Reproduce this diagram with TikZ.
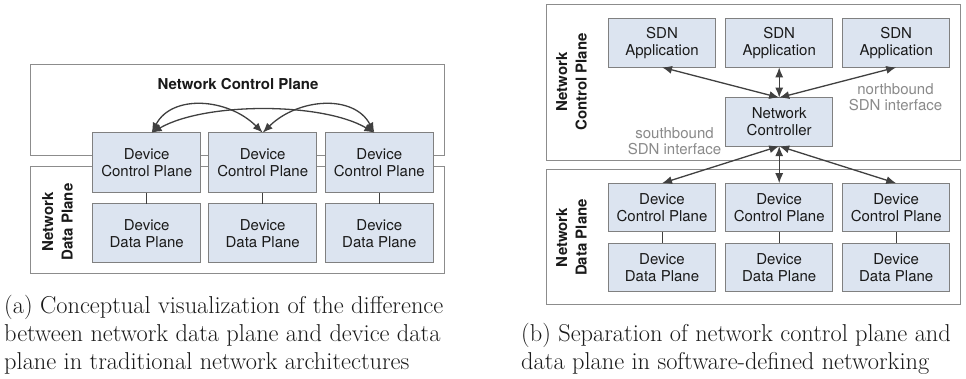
\documentclass[tikz,border=0pt]{standalone}
\usepackage{fontspec}
\newfontfamily\helv{TeX Gyre Heros}
\usetikzlibrary{arrows.meta}
\definecolor{boxfill}{HTML}{DCE4F0}
\definecolor{boxdraw}{HTML}{808080}
\definecolor{framedraw}{HTML}{8C8C8C}
\definecolor{arrowc}{HTML}{404040}
\definecolor{labelgray}{HTML}{8A8A8A}
\definecolor{txt}{HTML}{1A1A1A}
\begin{document}
\begin{tikzpicture}[x=1pt,y=-1pt,
  box/.style={draw=boxdraw, fill=boxfill, line width=0.9pt, inner sep=0pt, outer sep=0pt, align=center, font=\helv\fontsize{15}{17}\selectfont, text=txt},
  lbox/.style={box, minimum width=108pt, minimum height=60pt},
  ldbox/.style={box, minimum width=108pt, minimum height=59pt},
  rbox/.style={box, minimum width=107pt, minimum height=48.5pt},
  frame/.style={draw=framedraw, line width=1pt},
  conn/.style={draw=arrowc, line width=1.3pt, {Latex[length=10pt,width=8pt]}-{Latex[length=10pt,width=8pt]}},
  link/.style={draw=arrowc, line width=0.9pt},
  plane/.style={font=\helv\bfseries\fontsize{15}{19.5}\selectfont, align=center, text=txt, inner sep=0pt},
  iface/.style={font=\helv\fontsize{15}{16}\selectfont, align=center, text=labelgray, inner sep=0pt},
  captxt/.style={font=\fontsize{24.4}{28}\selectfont, anchor=base west, inner sep=0pt, text=txt}]
\useasboundingbox (0,0) rectangle (966,379);
\fill[white] (0,0) rectangle (966,379);

% ---------- (a) ----------
\draw[frame] (30.7,65) rectangle (444,156);
\draw[frame] (30.7,167) rectangle (444,273.5);
\node[plane] (ncpL) at (238,84) {Network Control Plane};
\node[plane, rotate=90] (ndpL) at (57.5,222) {Network\\Data Plane};

\node[lbox] (c1) at (146.7,162.7) {Device\\Control Plane};
\node[lbox] (c2) at (262.7,162.7) {Device\\Control Plane};
\node[lbox] (c3) at (379.3,162.7) {Device\\Control Plane};
\node[ldbox] (e1) at (146.7,233.4) {Device\\Data Plane};
\node[ldbox] (e2) at (262.7,233.4) {Device\\Data Plane};
\node[ldbox] (e3) at (379.3,233.4) {Device\\Data Plane};
\draw[link] (c1.south) -- (e1.north);
\draw[link] (c2.south) -- (e2.north);
\draw[link] (c3.south) -- (e3.north);

\coordinate (t1) at ([xshift=5pt]c1.north);
\coordinate (t2) at (c2.north);
\coordinate (t3) at ([xshift=-5pt]c3.north);
\draw[conn] (t1) .. controls (172,94) and (228,98) .. (t2);
\draw[conn] (t3) .. controls (354,94) and (298,98) .. (t2);
\draw[conn] (t1) .. controls (205,102) and (322,102) .. (t3);

\node[captxt] (capa1) at (4,313.3) {(a) Conceptual visualization of the difference};
\node[captxt] (capa2) at (4,341.3) {between network data plane and device data};
\node[captxt] (capa3) at (4,369.3) {plane in traditional network architectures};

% ---------- (b) ----------
\draw[frame] (546,5) rectangle (960,161);
\draw[frame] (546,170) rectangle (960,304);
\node[plane, rotate=90] (ncpR) at (571.5,82) {Network\\Control Plane};
\node[plane, rotate=90] (ndpR) at (571.5,237.5) {Network\\Data Plane};

\node[rbox, minimum height=49pt] (a1) at (662,42.8) {SDN\\Application};
\node[rbox, minimum height=49pt] (a2) at (779.2,42.8) {SDN\\Application};
\node[rbox, minimum height=49pt] (a3) at (896.2,42.8) {SDN\\Application};
\node[rbox] (nc) at (779.2,121.9) {Network\\Controller};

\node[iface] (nb) at (895.5,97) {northbound\\SDN interface};
\node[iface] (sb) at (674.5,141) {southbound\\SDN interface};

\node[rbox] (f1) at (662,207.5) {Device\\Control Plane};
\node[rbox] (f2) at (779.2,207.5) {Device\\Control Plane};
\node[rbox] (f3) at (896.2,207.5) {Device\\Control Plane};
\node[rbox] (g1) at (662,267.5) {Device\\Data Plane};
\node[rbox] (g2) at (779.2,267.5) {Device\\Data Plane};
\node[rbox] (g3) at (896.2,267.5) {Device\\Data Plane};
\draw[link] (f1.south) -- (g1.north);
\draw[link] (f2.south) -- (g2.north);
\draw[link] (f3.south) -- (g3.north);

\draw[conn] (nc.north) -- (a1.south);
\draw[conn] (nc.north) -- (a2.south);
\draw[conn] (nc.north) -- (a3.south);
\draw[conn] (nc.south) -- (f1.north);
\draw[conn] (nc.south) -- (f2.north);
\draw[conn] (nc.south) -- (f3.north);

\node[captxt] (capb1) at (521,341.3) {(b) Separation of network control plane and};
\node[captxt] (capb2) at (521,369.3) {data plane in software-defined networking};
\end{tikzpicture}
\end{document}
